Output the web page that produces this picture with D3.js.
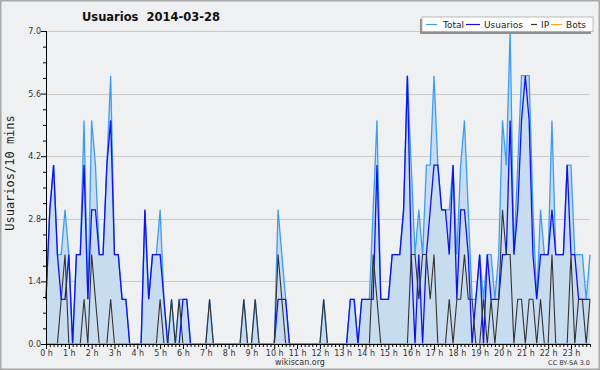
<!DOCTYPE html>
<html>
<head>
<meta charset="utf-8">
<script src="https://cdnjs.cloudflare.com/ajax/libs/d3/7.8.5/d3.min.js"></script>
<style>
  body { margin: 0; background: #fff; }
  text { font-family: "DejaVu Sans", sans-serif; }
</style>
</head>
<body>
<div id="chart"></div>
<script>
(function() {

  var width = 600,
      height = 370;

  // one value every 10 minutes, 0 h .. 23 h 50
  var usuarios = [
    1,3,4,2,1,1,2,0,2,2, 4,1,3,3,2,2,4,5,2,2, 1,1,0,0,0,0,3,1,2,2,
    2,1,0,0,0,0,1,1,0,0, 0,0,0,0,0,0,0,0,0,0, 0,0,0,0,0,0,0,0,0,0,
    0,1,1,1,0,0,0,0,0,0, 0,0,0,0,0,0,0,0,0,0, 1,1,0,1,1,1,1,4,1,1,
    1,2,2,2,3,6,2,0,2,0, 2,3,4,4,3,3,2,4,1,3, 3,2,0,1,2,0,2,1,1,1,
    2,2,5,2,3,5,6,5,2,1, 2,2,2,3,2,2,2,4,2,2, 1,1,1,1
  ];
  var ip = [
    0,0,0,0,1,2,0,0,0,0, 1,0,2,1,0,0,0,1,0,0, 0,0,0,0,0,0,0,0,0,0,
    1,0,0,1,0,1,0,0,0,0, 0,0,0,1,0,0,0,0,0,0, 0,0,1,0,0,1,0,0,0,0,
    0,2,1,0,0,0,0,0,0,0, 0,0,0,1,0,0,0,0,0,0, 0,0,0,0,0,0,2,1,0,0,
    0,0,0,0,0,0,2,2,1,2, 2,1,2,0,0,0,1,0,1,1, 2,1,1,0,0,1,0,1,0,1,
    3,2,2,0,1,1,0,1,1,0, 1,0,0,2,0,0,0,0,2,0, 1,1,0,1
  ];
  var total = [
    1,3,4,2,2,3,2,0,2,2, 5,1,5,4,2,2,4,6,2,2, 1,1,0,0,0,0,3,1,2,2,
    3,1,0,1,0,1,1,1,0,0, 0,0,0,1,0,0,0,0,0,0, 0,0,1,0,0,1,0,0,0,0,
    0,3,2,1,0,0,0,0,0,0, 0,0,0,1,0,0,0,0,0,0, 1,1,0,1,1,1,3,5,1,1,
    1,2,2,2,3,6,4,2,3,2, 4,4,6,4,3,3,3,4,2,4, 5,3,1,1,2,1,2,2,1,2,
    5,4,7,2,4,6,6,6,3,1, 3,2,2,5,2,2,2,4,4,2, 2,2,1,2
  ];
  var bots = [
    0,0,0,0,0,0,0,0,0,0, 0,0,0,0,0,0,0,0,0,0, 0,0,0,0,0,0,0,0,0,0,
    0,0,0,0,0,0,0,0,0,0, 0,0,0,0,0,0,0,0,0,0, 0,0,0,0,0,0,0,0,0,0,
    0,0,0,0,0,0,0,0,0,0, 0,0,0,0,0,0,0,0,0,0, 0,0,0,0,0,0,0,0,0,0,
    0,0,0,0,0,0,0,0,0,0, 0,0,0,0,0,0,0,0,0,0, 0,0,0,0,0,0,0,0,0,0,
    0,0,0,0,0,0,0,0,0,0, 0,0,0,0,0,0,0,0,0,0, 0,0,0,0
  ];
  var yTicks = [0, 1.4, 2.8, 4.2, 5.6, 7.0];
  var hourLabels = ["0 h","1 h","2 h","3 h","4 h","5 h","6 h","7 h","8 h","9 h","10 h","11 h",
                    "12 h","13 h","14 h","15 h","16 h","17 h","18 h","19 h","20 h","21 h","22 h","23 h"];
  var seriesNames = ["Total", "Usuarios", "IP", "Bots"];
  var seriesColors = ["#3e9cf2", "#1010f0", "#333333", "#ffa21a"];

  var svg = d3.select("#chart").append("svg")
      .attr("width", width)
      .attr("height", height);

  svg.append("rect")
      .attr("x", 0.75).attr("y", 0.75)
      .attr("width", width - 1.5).attr("height", height - 1.5)
      .style("fill", "#eff0f2")
      .style("stroke", "#a8a8a8")
      .style("stroke-width", 1.5);

  var x = d3.scaleLinear().domain([0, 143]).range([46, 590]);
  var y = d3.scaleLinear().domain([0, 7]).range([344, 31]);

  // grid
  svg.append("g").selectAll("line")
      .data(yTicks.slice(1))
    .enter().append("line")
      .attr("x1", 46).attr("x2", 590)
      .attr("y1", function(d) { return Math.round(y(d)) + 0.5; })
      .attr("y2", function(d) { return Math.round(y(d)) + 0.5; })
      .style("stroke", "#cacaca")
      .style("stroke-width", 1);

  var idx = d3.range(total.length);

  var area = d3.area()
      .x(function(i) { return x(i); })
      .y0(y(0))
      .y1(function(i) { return y(total[i]); });

  svg.append("path")
      .datum(idx)
      .attr("d", area)
      .style("fill", "#c8dcf0");

  var series = [total, usuarios, ip, bots];
  series.forEach(function(s, k) {
    var line = d3.line()
        .x(function(i) { return x(i); })
        .y(function(i) { return y(s[i]); });
    svg.append("path")
        .datum(idx)
        .attr("d", line)
        .style("fill", "none")
        .style("stroke", seriesColors[k])
        .style("stroke-width", k == 2 ? 1.1 : 1.3);
  });

  // y axis
  var yAxis = d3.axisLeft(y)
      .tickValues(d3.range(0, 7.01, 0.35))
      .tickSize(3)
      .tickFormat(function(d) {
        return yTicks.some(function(t) { return Math.abs(t - d) < 1e-6; }) ? d3.format(".1f")(d) : "";
      });
  var gy = svg.append("g")
      .attr("transform", "translate(46,0)")
      .call(yAxis);
  gy.selectAll(".tick line")
      .attr("x2", function(d) {
        return yTicks.some(function(t) { return Math.abs(t - d) < 1e-6; }) ? -5 : -3;
      });
  gy.selectAll("text").attr("x", -5).style("font-size", "8px").style("fill", "#333");
  gy.select(".domain").attr("d", "M0.5,31V344.5");

  // x axis
  var xAxis = d3.axisBottom(x)
      .tickValues(idx)
      .tickSize(3)
      .tickFormat(function(i) { return i % 6 == 0 ? hourLabels[i / 6] : ""; });
  var gx = svg.append("g")
      .attr("transform", "translate(0,344)")
      .call(xAxis);
  gx.selectAll(".tick line")
      .attr("y2", function(i) { return i % 6 == 0 ? 5 : 3; });
  gx.selectAll("text").attr("y", 6).style("font-size", "8px").style("fill", "#333");
  gx.select(".domain").attr("d", "M46,0.5H590");

  // title and labels
  svg.append("text")
      .attr("x", 151).attr("y", 21)
      .attr("text-anchor", "middle")
      .style("font-size", "11.5px")
      .style("font-weight", "bold")
      .style("white-space", "pre")
      .style("fill", "#111")
      .text("Usuarios  2014-03-28");

  svg.append("text")
      .attr("transform", "translate(14,173) rotate(-90)")
      .attr("text-anchor", "middle")
      .style("font-family", "DejaVu Sans Mono, monospace")
      .style("font-size", "12px")
      .style("fill", "#222")
      .text("Usuarios/10 mins");

  svg.append("text")
      .attr("x", 300).attr("y", 365)
      .attr("text-anchor", "middle")
      .style("font-size", "8px")
      .style("fill", "#333")
      .text("wikiscan.org");

  svg.append("text")
      .attr("x", 590).attr("y", 365)
      .attr("text-anchor", "end")
      .style("font-size", "6.5px")
      .style("fill", "#333")
      .text("CC BY-SA 3.0");

  // legend
  var lg = svg.append("g");
  lg.append("rect")
      .attr("x", 420).attr("y", 19).attr("width", 171).attr("height", 15)
      .style("fill", "#8e8e8e");
  lg.append("rect")
      .attr("x", 422).attr("y", 17).attr("width", 171).attr("height", 14.5)
      .style("fill", "#ffffff")
      .style("stroke", "#aaaaaa")
      .style("stroke-width", 0.8);

  var itemX = [426, 466, 531, 551];
  var textX = [443, 484, 541, 566];
  var lineW = [11, 14, 6, 11];
  seriesNames.forEach(function(name, k) {
    lg.append("line")
        .attr("x1", itemX[k]).attr("x2", itemX[k] + lineW[k])
        .attr("y1", 24.5).attr("y2", 24.5)
        .style("stroke", seriesColors[k])
        .style("stroke-width", 1.2);
    lg.append("text")
        .attr("x", textX[k]).attr("y", 28)
        .style("font-size", "9px")
        .style("fill", "#222")
        .text(name);
  });

})();
</script>
</body>
</html>
